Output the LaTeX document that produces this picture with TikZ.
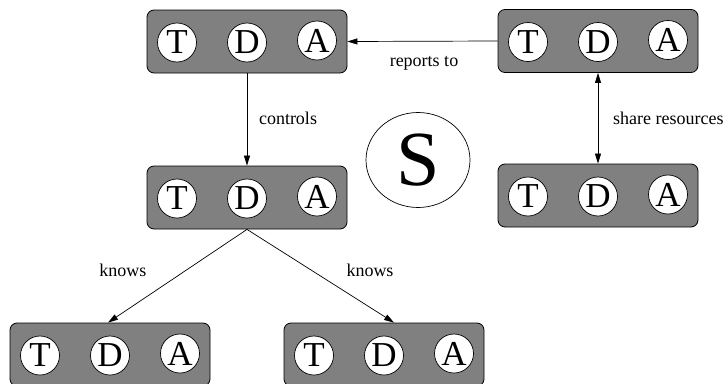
\documentclass[tikz,border=0pt]{standalone}
\usepackage{fontspec}
\setmainfont{Liberation Serif}
\newfontfamily\timesfam{Liberation Serif}
\usetikzlibrary{arrows.meta,calc,shapes.geometric}
\definecolor{agentgray}{RGB}{128,128,128}
\begin{document}
\begin{tikzpicture}[x=1pt,y=-1pt,
  agent/.style={draw, fill=agentgray, rounded corners=7pt, minimum width=200pt,
    minimum height=63pt, line width=0.8pt, inner sep=0pt},
  role/.style={circle, draw, fill=white, minimum size=39pt, inner sep=0pt,
    line width=0.7pt, font=\timesfam\fontsize{35}{35}\selectfont},
  lbl/.style={font=\timesfam\fontsize{18}{20}\selectfont, inner sep=0pt},
  arr/.style={line width=0.7pt, -{Triangle[length=10pt,width=6pt]}},
  dbl/.style={line width=0.7pt, {Triangle[length=10pt,width=6pt]}-{Triangle[length=10pt,width=6pt]}}]
\useasboundingbox (0,0) rectangle (723,383);
\begin{scope}
\clip (0,0) rectangle (723,383);
% agent boxes
\node[agent] (tl) at (247,41.5) {};
\node[agent] (tr) at (598,41) {};
\node[agent] (ml) at (247,197.5) {};
\node[agent] (rm) at (598,195.5) {};
\node[agent] (bl) at (110,354.5) {};
\node[agent] (br) at (384,354.5) {};
% T, D, A roles inside each agent
\foreach \b in {tl,tr,ml,rm,bl,br}{
  \node[role] (\b T) at ($(\b)+(-70,1)$) {T};
  \node[role] (\b D) at ($(\b)+(0,1)$) {D};
  \node[role] (\b A) at ($(\b)+(70,-1)$) {A};
}
% society
\node[draw, ellipse, line width=0.7pt, minimum width=104pt, minimum height=95pt,
  inner sep=0pt, font=\timesfam\fontsize{78}{78}\selectfont] (S) at (418,160) {S};
% relations
\draw[arr] (tr.west) -- (tl.east);
\draw[arr] (tl.south) -- (ml.north);
\draw[dbl] (tr.south) -- (rm.north);
\coordinate (fork) at (ml.south);
\coordinate (blin) at ($(bl.north)+(-2,0)$);
\coordinate (brin) at ($(br.north)+(10,0)$);
\draw[arr] (fork) -- (blin);
\draw[arr] (fork) -- (brin);
% labels
\node[lbl] (lrep) at (424,63) {reports to};
\node[lbl] (lctl) at (288,118) {controls};
\node[lbl, anchor=west] (lshr) at (613,118) {share resources};
\node[lbl] (lkn1) at (123,270) {knows};
\node[lbl] (lkn2) at (370,270) {knows};
\end{scope}
\end{tikzpicture}
\end{document}
